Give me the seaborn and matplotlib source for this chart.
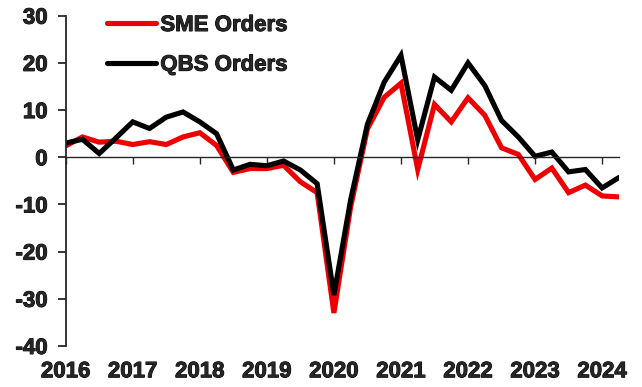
import matplotlib
matplotlib.use("Agg")
import matplotlib.pyplot as plt
import matplotlib.patheffects as pe
import seaborn as sns
import pandas as pd

# Quarterly balances, 2016 Q1 to 2024 Q2
quarters = [f"{y}Q{q}" for y in range(2016, 2025) for q in range(1, 5)][:34]
sme_orders = [2.4, 4.3, 3.2, 3.4, 2.7, 3.3, 2.7, 4.3, 5.2, 2.5,
              -3.2, -2.4, -2.4, -1.7, -5.2, -7.5, -33.0, -10.5, 6.0, 12.7,
              15.7, -2.6, 11.2, 7.5, 12.6, 8.9, 2.0, 0.6, -4.7, -2.3,
              -7.5, -5.9, -8.2, -8.4]
qbs_orders = [3.0, 3.8, 0.8, 4.1, 7.5, 6.1, 8.5, 9.6, 7.5, 5.0,
              -2.7, -1.5, -1.8, -0.8, -2.7, -5.6, -29.2, -9.0, 7.0, 15.9,
              21.6, 3.7, 17.0, 14.2, 20.0, 15.2, 7.8, 4.3, 0.2, 1.1,
              -3.1, -2.6, -6.5, -4.3]
year_labels = ["2016", "2017", "2018", "2019", "2020", "2021", "2022", "2023", "2024"]
series_names = ["SME Orders", "QBS Orders"]

sns.set_style("ticks")
plt.rcParams["font.family"] = ["Liberation Sans", "DejaVu Sans"]
plt.rcParams["font.weight"] = "bold"
plt.rcParams["axes.unicode_minus"] = False

FS = 16
heavy = [pe.withStroke(linewidth=0.7, foreground="black")]

n = len(quarters)
df = pd.DataFrame({
    "t": list(range(n)) * 2,
    "value": sme_orders + qbs_orders,
    "series": [series_names[0]] * n + [series_names[1]] * n,
})

fig = plt.figure(figsize=(6.42, 3.87), dpi=100)
ax = fig.add_axes([0.1023, 0.106, 0.8617, 0.8534])

sns.lineplot(data=df, x="t", y="value", hue="series", hue_order=series_names,
             palette={"SME Orders": "#ee0000", "QBS Orders": "#000000"},
             linewidth=3.7, ax=ax, legend=True)
for ln in ax.lines:
    ln.set_solid_joinstyle("miter")

ax.set_xlim(0, n - 1)
ax.set_ylim(-40, 30)
ax.set_yticks(range(-40, 31, 10))
ax.set_xlabel("")
ax.set_ylabel("")

# x axis line sits on zero, year labels stay at the bottom
year_ticks = list(range(0, n, 4))
ax.spines["bottom"].set_position(("data", 0))
ax.spines["bottom"].set_linewidth(1.0)
ax.spines["left"].set_linewidth(1.3)
ax.spines["top"].set_visible(False)
ax.spines["right"].set_visible(False)
ax.set_xticks(year_ticks)
ax.tick_params(axis="x", direction="out", length=5, width=1.0,
               labelbottom=False)
ax.tick_params(axis="y", direction="out", length=6, width=1.3,
               labelsize=FS, pad=7)
for lab in ax.get_yticklabels():
    lab.set_fontweight("bold")
    lab.set_path_effects(heavy)

secx = ax.secondary_xaxis("bottom")
secx.set_xticks(year_ticks)
secx.set_xticklabels(year_labels, fontsize=FS, fontweight="bold")
secx.tick_params(length=0, pad=11)
secx.spines["bottom"].set_visible(False)
for lab in secx.get_xticklabels():
    lab.set_path_effects(heavy)

leg = ax.legend(loc="upper left", frameon=False,
                prop={"size": FS, "weight": "bold"},
                handlelength=2.2, handletextpad=0.2, labelspacing=0.84,
                borderpad=0, borderaxespad=0)
leg.set_bbox_to_anchor((107 / 642, 1 - 15 / 387), transform=fig.transFigure)
for h in leg.get_lines():
    h.set_linewidth(3.7)
for t in leg.get_texts():
    t.set_path_effects(heavy)

fig.savefig("out.png", dpi=100)
